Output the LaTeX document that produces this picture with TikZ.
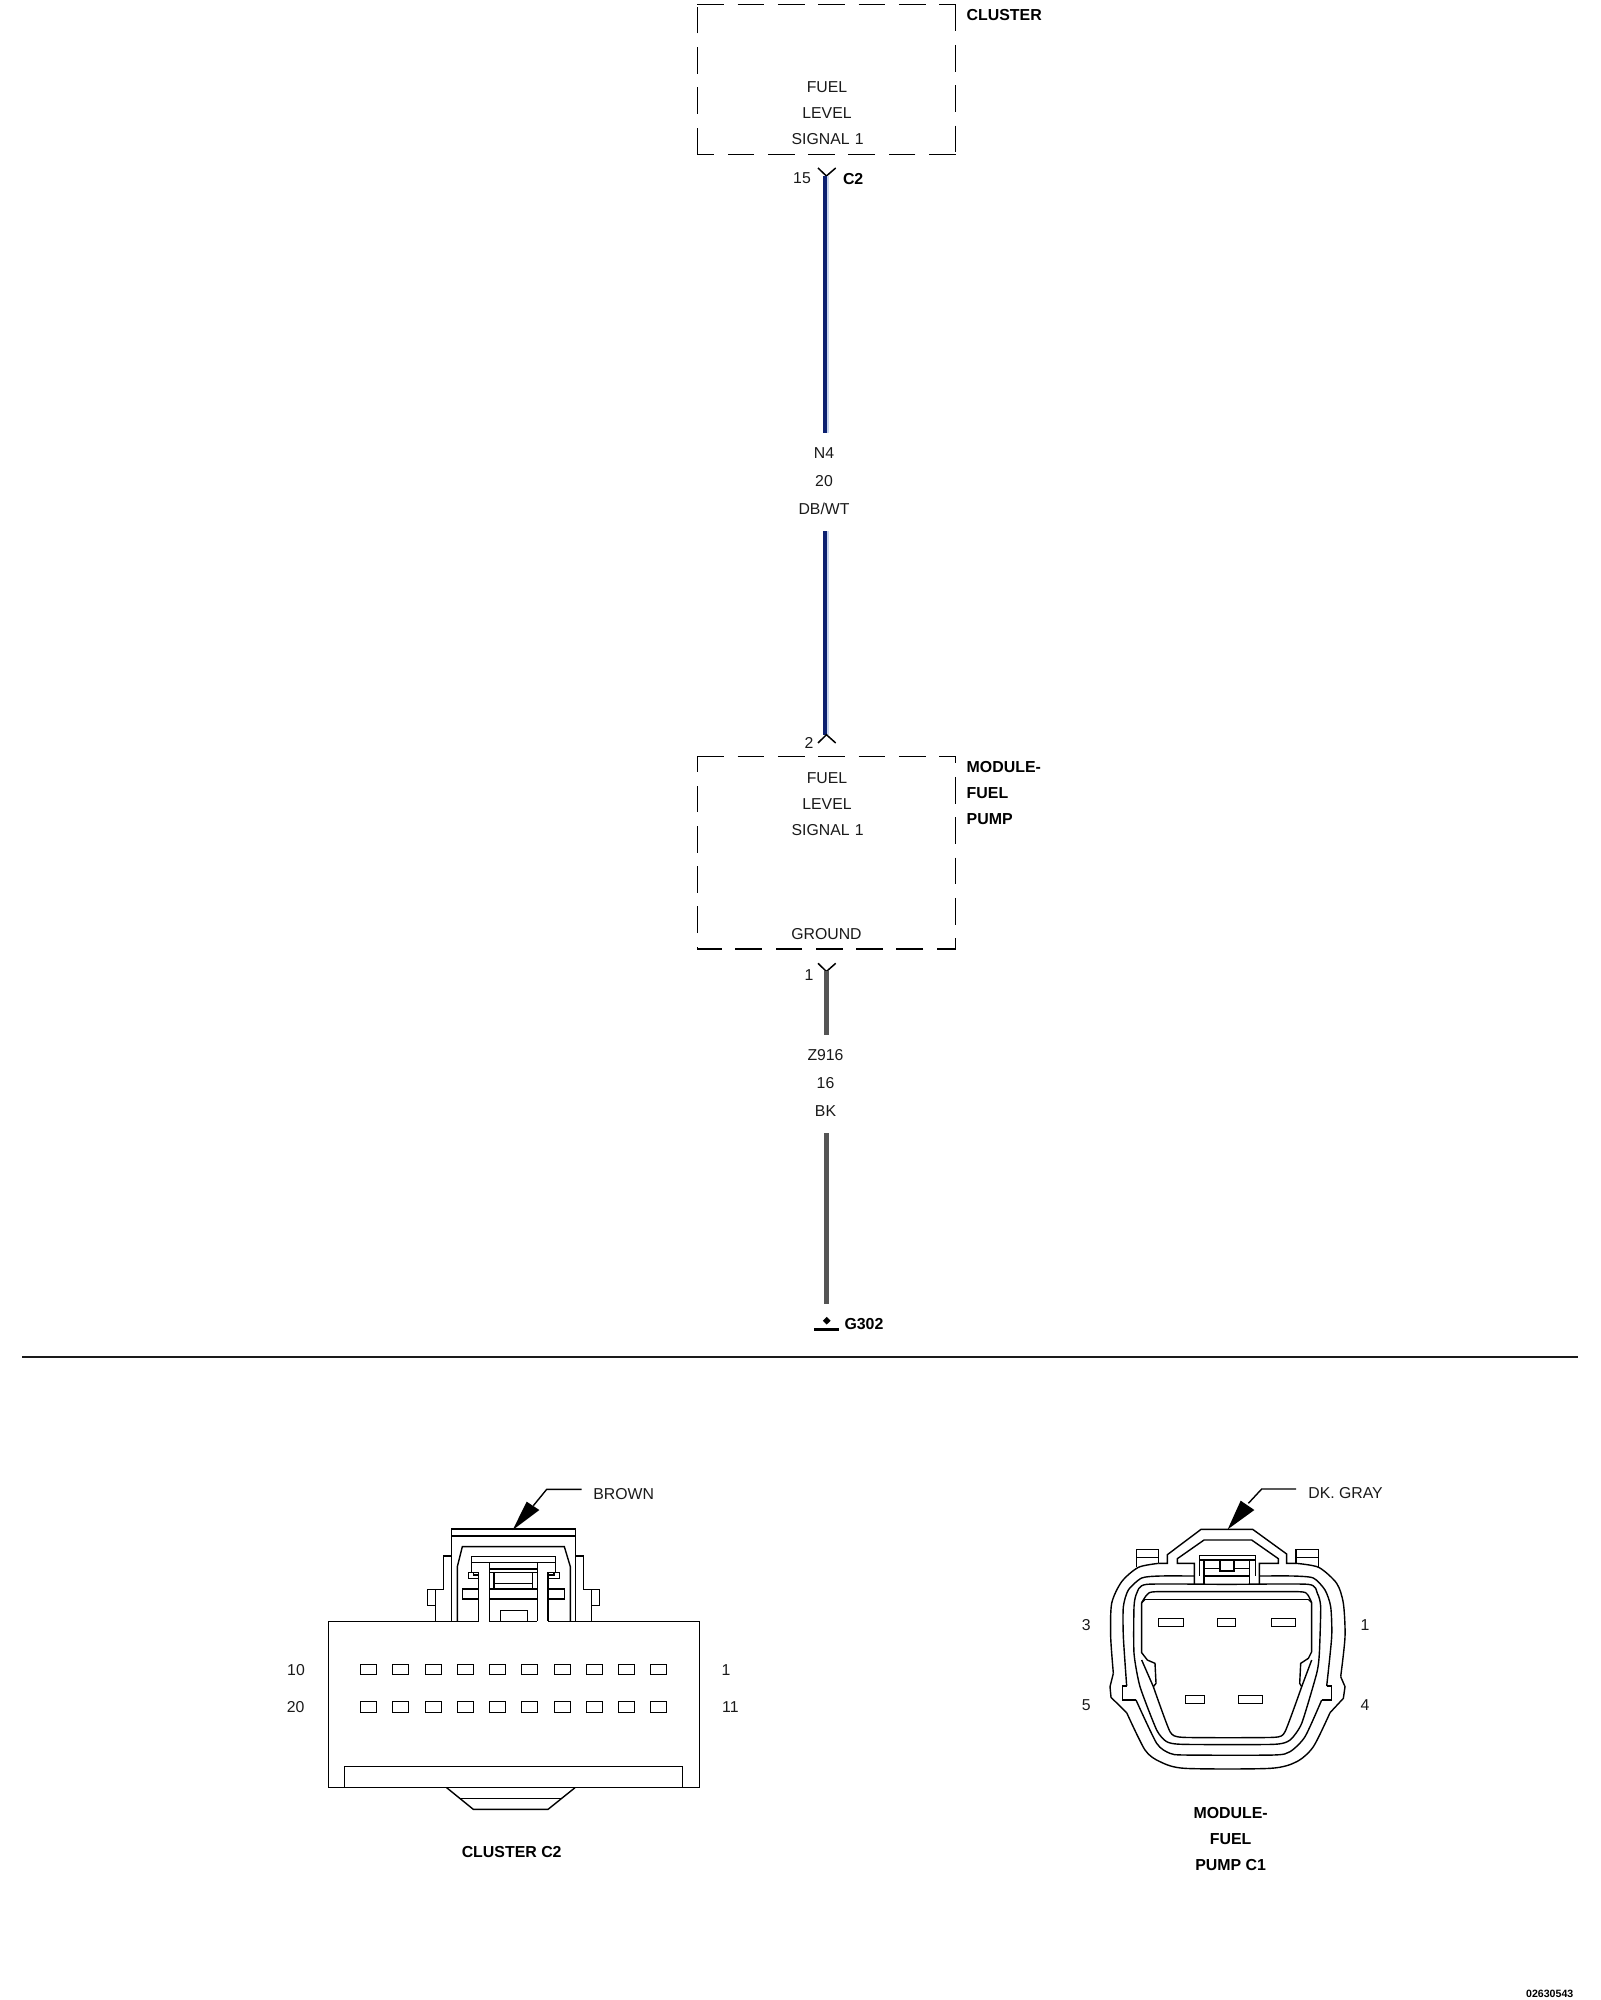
\documentclass[tikz,border=0pt]{standalone}
\usepackage{fontspec}
\setmainfont{Liberation Sans}
\definecolor{wireblue}{HTML}{0C2070}
\definecolor{wirepale}{HTML}{C9D6EE}
\definecolor{wiregray}{HTML}{555555}
\definecolor{inkc}{HTML}{1A1A1A}
\tikzset{
  txt/.style={inner sep=0pt,outer sep=0pt,text=inkc,yshift=-0.3pt,font=\fontsize{7.9pt}{9pt}\selectfont},
  btxt/.style={inner sep=0pt,outer sep=0pt,text=black,yshift=-0.3pt,font=\fontsize{7.95pt}{9pt}\selectfont\bfseries},
  dsh/.style={line width=0.75pt,dash pattern=on 13.35pt off 6.8pt},
  pinline/.style={line width=0.75pt},
  fineline/.style={line width=0.7pt,line join=miter},
  bluewire/.style={line width=1.8pt,wireblue},
  palewire/.style={line width=1.3pt,wirepale},
  graywire/.style={line width=2.4pt,wiregray},
  zoomone/.style={shift={(260,1460)},x=0.166667pt,y=-0.166667pt},
  zoomtwo/.style={shift={(1060,1460)},x=0.166667pt,y=-0.166667pt},
  zoomsix/.style={shift={(420,1500)},x=0.166667pt,y=-0.166667pt},
}
\begin{document}
\begin{tikzpicture}[x=0.5pt,y=-0.5pt]
\useasboundingbox (0,0) rectangle (1600,2000);
\fill[white] (0,0) rectangle (1600,2000);

% ---- CLUSTER box
\coordinate (ctl) at (697.3,4.7); \coordinate (ctr) at (955.7,4.7);
\coordinate (cbl) at (697.3,154.3); \coordinate (cbr) at (955.7,154.3);
\draw[dsh] (ctl) -- (ctr);
\draw[dsh] (ctr) -- (cbr);
\draw[dsh] (cbr) -- (cbl);
\draw[dsh] (cbl) -- (ctl);
\node[btxt,anchor=west] (tcluster) at (966.7,14.7) {CLUSTER};
\node[txt] (cf) at (827,86.7) {FUEL};
\node[txt] (cl) at (827,112.7) {LEVEL};
\node[txt] (cs) at (827.7,138.3) {SIGNAL\kern0.5pt{} 1};
\node[txt] (p15) at (802,178) {15};
\node[btxt,anchor=west] (c2lab) at (843,178) {C2};

% ---- wire N4
\coordinate (y1) at (826.4,176); \coordinate (y1l) at (818,168); \coordinate (y1r) at (835.7,168);
\draw[line width=0.75pt] (y1l) -- (y1) -- (y1r);
\coordinate (w1e) at (825.1,433); \coordinate (w1s) at (825.1,176);
\draw[palewire] (828,176) -- (828,433);
\draw[bluewire] (w1s) -- (w1e);
\node[txt] (n4) at (824,452) {N4};
\node[txt] (n20) at (824,480) {20};
\node[txt] (ndb) at (824,508) {DB/WT};
\coordinate (w2s) at (825.1,531); \coordinate (w2e) at (825.1,735);
\draw[palewire] (828,531) -- (828,735);
\draw[bluewire] (w2s) -- (w2e);
\coordinate (y2) at (826.4,734.7); \coordinate (y2l) at (818,743); \coordinate (y2r) at (835.7,743);
\draw[line width=0.75pt] (y2l) -- (y2) -- (y2r);
\node[txt] (p2) at (809,742) {2};

% ---- MODULE box
\coordinate (mtl) at (697.3,756.3); \coordinate (mtr) at (955.7,756.3);
\coordinate (mbl) at (697.3,949); \coordinate (mbr) at (955.7,949);
\draw[dsh] (mtl) -- (mtr);
\draw[dsh,dash phase=9.85pt] (mtr) -- (mbr);
\draw[dsh,dash phase=3.85pt] (mbr) -- (mbl);
\draw[dsh,dash phase=12.2pt] (mbl) -- (mtl);
\node[btxt,anchor=west] (mm1) at (966.7,766.7) {MODULE-};
\node[btxt,anchor=west] (mm2) at (966.7,792.7) {FUEL};
\node[btxt,anchor=west] (mm3) at (966.7,818.3) {PUMP};
\node[txt] (mf) at (827,777.7) {FUEL};
\node[txt] (ml) at (827,803.3) {LEVEL};
\node[txt] (ms) at (827.7,829.3) {SIGNAL\kern0.5pt{} 1};
\node[txt] (mg) at (826.5,933.3) {GROUND};
\node[txt] (p1) at (809,974) {1};

% ---- wire Z916
\coordinate (y3) at (826.4,971.5); \coordinate (y3l) at (818,963.3); \coordinate (y3r) at (835.7,963.3);
\draw[line width=0.75pt] (y3l) -- (y3) -- (y3r);
\coordinate (w3s) at (826.4,971); \coordinate (w3e) at (826.4,1035);
\draw[graywire] (w3s) -- (w3e);
\node[txt] (z1) at (825.5,1054) {Z916};
\node[txt] (z2) at (825.5,1082) {16};
\node[txt] (z3) at (825.5,1110) {BK};
\coordinate (w4s) at (826.4,1133); \coordinate (gnd) at (826.4,1304);
\draw[graywire] (w4s) -- (gnd);

% ---- ground
\fill (826.7,1316.9) -- (830.6,1320.7) -- (826.7,1324.5) -- (822.8,1320.7) -- cycle;
\draw[line width=1.5pt] (814,1329.3) -- (838.7,1329.3);
\node[btxt,anchor=west] (g302) at (844.5,1323) {G302};

% ---- separator
\coordinate (sl) at (22,1357); \coordinate (sr) at (1578,1357);
\draw[line width=1pt,inkc] (sl) -- (sr);

% ---- connector CLUSTER C2 (body, zoom-1 coordinates)
\begin{scope}[zoomone,fineline]
\draw (656,484) -- (205,484) -- (205,983) -- (1318,983) -- (1318,484) -- (864,484);
\draw (688,484) -- (832,484);
\draw (253,983) -- (253,919) -- (1268,919) -- (1268,983);
\draw (560,983) -- (640,1048) -- (864,1048) -- (945,983);
\draw (600,1016) -- (905,1016);
\foreach \px in {301,397,496,592,688,784,883,979,1075,1171}{
  \draw[pinline] (\px,614) rectangle ++(49,30);
  \draw[pinline] (\px,725) rectangle ++(49,33);
}
\node[txt] (l10) at (108,628) {10};
\node[txt] (l1) at (1398,628) {1};
\node[txt] (l20) at (107,740) {20};
\node[txt] (l11) at (1411,740) {11};
\node[txt,anchor=west] (brown) at (1000,100) {BROWN};
\node[btxt] (cc2) at (755,1173) {CLUSTER C2};
\coordinate (bra) at (860,88); \coordinate (brb) at (965,88);
\draw (brb) -- (bra) -- (820,137);
\fill (758,210) -- (800,125) -- (838,150) -- cycle;
\end{scope}

% ---- connector CLUSTER C2 (latch, zoom-6 coordinates)
\begin{scope}[zoomsix,fineline]
\draw (94,364) -- (94,87) -- (467,87) -- (467,364);
\draw (94,108) -- (467,108);
\draw (112,364) -- (112,200) -- (127,140) -- (433,140) -- (451,200) -- (451,364);
\draw (94,168) -- (70,168) -- (70,268) -- (46,268) -- (46,364);
\draw (22,268) rectangle (46,316);
\draw (467,168) -- (491,168) -- (491,268) -- (515,268) -- (515,364);
\draw (515,268) rectangle (538,316);
\draw (155,170) rectangle (407,187);
\draw (155,187) -- (155,217) (407,187) -- (407,217);
\draw (145,217) rectangle (175,235);
\draw (160,217) -- (160,225) -- (175,225);
\draw (385,217) rectangle (418,235);
\draw (385,225) -- (402,225) -- (402,217);
\draw (175,217) -- (175,364);
\draw (208,187) -- (208,364);
\draw (352,187) -- (352,364);
\draw (384,217) -- (384,364);
\draw (208,207) -- (352,207);
\draw (208,217) -- (352,217);
\draw (222,217) -- (222,267) (337,217) -- (337,267);
\draw (222,250) -- (337,250);
\draw (127,267) rectangle (175,297);
\draw (385,267) rectangle (433,297);
\draw (208,267) -- (352,267);
\draw (208,297) -- (352,297);
\draw (241,364) -- (241,331) -- (323,331) -- (323,364);
\end{scope}

% ---- connector MODULE-FUEL PUMP C1 (zoom-2 coordinates)
\begin{scope}[zoomtwo,fineline]
% top cap
\draw (296,310) -- (322,310) -- (322,284) -- (423,208) -- (578,208) -- (680,282) -- (680,310) -- (708,310);
\draw (403,373) -- (403,310) -- (352,310) -- (352,296) -- (432,240) -- (575,240) -- (655,296) -- (655,310) -- (598,310) -- (598,373);
\draw (418,300) rectangle (587,286);
\draw (418,300) -- (418,348) (587,300) -- (587,348);
\draw (432,300) -- (432,373) (568,300) -- (568,373);
\draw (432,325) -- (480,325) (522,325) -- (568,325);
\draw (432,348) -- (568,348);
\draw (480,300) -- (480,333) -- (522,333) -- (522,300);
% tabs
\draw (230,322) -- (230,268) -- (296,268) -- (296,310);
\draw (230,292) -- (296,292);
\draw (708,310) -- (708,268) -- (776,268) -- (776,322);
\draw (708,292) -- (776,292);
% outer shell
\draw plot[smooth,tension=0.45] coordinates {(296,310) (235,322) (185,365) (155,430) (152,530) (160,640)};
\draw (160,640) -- (150,680) -- (153,712) -- (200,758);
\draw plot[smooth,tension=0.45] coordinates {(200,758) (255,870) (300,905) (375,925) (630,925) (710,905) (760,860) (810,758)};
\draw (810,758) -- (850,715) -- (855,680) -- (842,650);
\draw plot[smooth,tension=0.45] coordinates {(842,650) (855,530) (850,430) (830,370) (776,322) (708,310)};
% second contour
\draw plot[smooth,tension=0.4] coordinates {(403,348) (300,348) (245,354) (205,390) (190,440) (190,530) (200,678)};
\draw (200,678) -- (188,678) -- (188,720) -- (228,720);
\draw plot[smooth,tension=0.4] coordinates {(228,720) (290,850) (330,880) (375,885) (640,885) (690,875) (735,830) (785,720)};
\draw (785,720) -- (815,720) -- (815,678) -- (800,678);
\draw plot[smooth,tension=0.4] coordinates {(800,678) (815,530) (812,440) (795,390) (760,354) (700,348) (598,348)};
% third contour
\draw plot[smooth cycle,tension=0.35] coordinates {(500,373) (260,373) (230,400) (222,440) (222,580) (240,680) (290,810) (320,845) (370,853) (640,853) (690,840) (725,790) (770,640) (778,580) (782,440) (772,400) (745,373)};
% inner
\draw plot[smooth,tension=0.4] coordinates {(245,428) (262,403) (290,395) (500,395) (715,395) (742,403) (755,428)};
\draw (255,418) -- (745,418);
\draw (245,428) -- (255,418) (755,428) -- (745,418);
\draw (245,428) -- (245,578) -- (262,600) -- (285,610) -- (288,670) -- (280,680);
\draw (755,428) -- (755,575) -- (745,595) -- (722,610) -- (719,670) -- (725,680);
\draw (245,600) -- (280,680);
\draw (755,600) -- (725,680);
\draw plot[smooth,tension=0.3] coordinates {(280,680) (330,815) (370,832) (640,832) (675,815) (725,680)};
% pins
\draw[pinline] (296,475) rectangle (371,499);
\draw[pinline] (472,475) rectangle (527,499);
\draw[pinline] (634,475) rectangle (707,499);
\draw[pinline] (376,706) rectangle (434,731);
\draw[pinline] (535,706) rectangle (608,731);
% labels
\node[txt] (c3) at (79,493) {3};
\node[txt] (c1) at (915,493) {1};
\node[txt] (c5) at (79,733) {5};
\node[txt] (c4) at (915,733) {4};
\node[txt,anchor=west] (gray) at (745,97) {DK. GRAY};
\node[btxt] (pm1) at (512,1057) {MODULE-};
\node[btxt] (pm2) at (512,1136) {FUEL};
\node[btxt] (pm3) at (512,1213) {PUMP C1};
\coordinate (gra) at (605,87); \coordinate (grb) at (708,87);
\draw (grb) -- (gra) -- (565,130);
\fill (503,208) -- (542,122) -- (583,150) -- cycle;
\end{scope}

\node[btxt,font=\fontsize{5.3pt}{6pt}\selectfont\bfseries] (code) at (1549.7,1993.3) {02630543};
\end{tikzpicture}
\end{document}
